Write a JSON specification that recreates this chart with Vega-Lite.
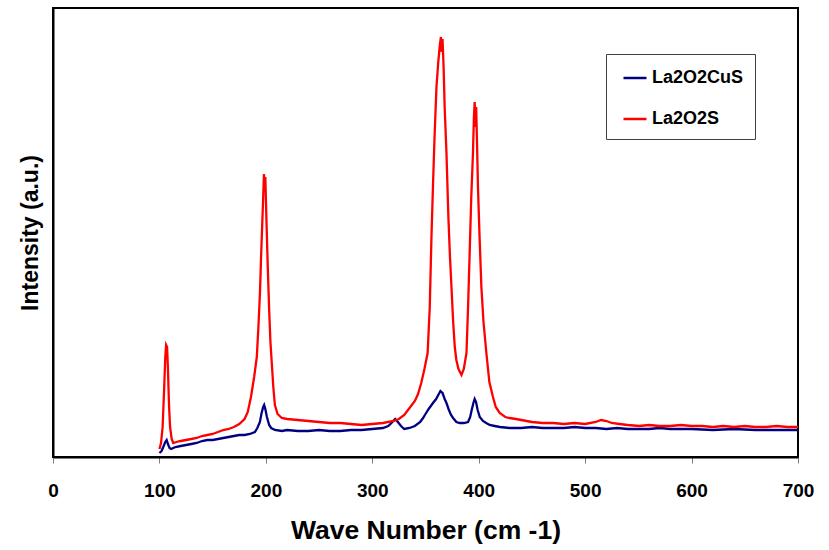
{
  "$schema": "https://vega.github.io/schema/vega-lite/v6.json",
  "width": 745,
  "height": 449,
  "autosize": {"type": "none"},
  "padding": {"left": 53, "top": 8, "right": 31, "bottom": 93},
  "background": "white",
  "config": {
    "font": "Liberation Sans",
    "view": {"stroke": "black", "strokeWidth": 2},
    "axis": {"grid": false}
  },
  "datasets": {
    "red": [
      {"w":100,"v":8},{"w":101.5,"v":14},{"w":103,"v":30},{"w":104.5,"v":70},{"w":105.5,"v":100},{"w":106.3,"v":112},{"w":107.2,"v":110},{"w":108,"v":88},{"w":109,"v":52},{"w":110,"v":30},{"w":111.5,"v":18},{"w":113,"v":14},{"w":116,"v":15},{"w":120,"v":16},{"w":125,"v":17},{"w":130,"v":18},{"w":135,"v":19},{"w":140,"v":21},{"w":145,"v":22},{"w":150,"v":23},{"w":155,"v":25},{"w":160,"v":27},{"w":165,"v":28},{"w":170,"v":30},{"w":175,"v":33},{"w":180,"v":38},{"w":183,"v":45},{"w":186,"v":60},{"w":189,"v":80},{"w":191.5,"v":100},{"w":193,"v":130},{"w":194.5,"v":165},{"w":195.5,"v":200},{"w":196.5,"v":230},{"w":197.5,"v":260},{"w":198.2,"v":283},{"w":198.8,"v":270},{"w":199.5,"v":280},{"w":200.6,"v":235},{"w":201.8,"v":190},{"w":203.1,"v":147},{"w":204.3,"v":115},{"w":205.5,"v":95},{"w":207,"v":70},{"w":208.5,"v":52},{"w":211,"v":43},{"w":215,"v":39},{"w":220,"v":38},{"w":230,"v":37},{"w":240,"v":36},{"w":250,"v":35},{"w":260,"v":34},{"w":270,"v":34},{"w":280,"v":33},{"w":290,"v":32},{"w":300,"v":33},{"w":310,"v":34},{"w":320,"v":36},{"w":325,"v":38},{"w":330,"v":42},{"w":335,"v":49},{"w":340,"v":56},{"w":343,"v":63},{"w":346,"v":74},{"w":349,"v":88},{"w":352,"v":104},{"w":354,"v":150},{"w":355.6,"v":220},{"w":357,"v":270},{"w":358.5,"v":320},{"w":360.3,"v":370},{"w":362,"v":395},{"w":363.5,"v":412},{"w":364.5,"v":420},{"w":365.3,"v":405},{"w":366,"v":418},{"w":367,"v":390},{"w":368,"v":350},{"w":369.7,"v":304},{"w":371.5,"v":240},{"w":373,"v":200},{"w":374.4,"v":170},{"w":376,"v":135},{"w":377.5,"v":110},{"w":379,"v":97},{"w":381,"v":88},{"w":383.8,"v":82},{"w":386,"v":88},{"w":388.5,"v":104},{"w":390,"v":150},{"w":391.5,"v":204},{"w":393,"v":260},{"w":394.6,"v":304},{"w":395.5,"v":340},{"w":396.2,"v":355},{"w":397,"v":330},{"w":397.6,"v":350},{"w":398.5,"v":310},{"w":399.3,"v":270},{"w":400.8,"v":220},{"w":402.5,"v":170},{"w":404.5,"v":135},{"w":407.2,"v":104},{"w":410,"v":75},{"w":413.4,"v":60},{"w":416,"v":50},{"w":419.7,"v":44},{"w":425,"v":40},{"w":429,"v":39},{"w":435,"v":38},{"w":440,"v":37},{"w":450,"v":35},{"w":460,"v":34},{"w":470,"v":34},{"w":480,"v":33},{"w":490,"v":34},{"w":500,"v":33},{"w":510,"v":35},{"w":515,"v":37},{"w":520,"v":36},{"w":525,"v":34},{"w":532,"v":33},{"w":540,"v":32},{"w":551,"v":31},{"w":560,"v":32},{"w":570,"v":31},{"w":580,"v":31},{"w":590,"v":32},{"w":600,"v":31},{"w":610,"v":31},{"w":620,"v":30},{"w":630,"v":31},{"w":640,"v":30},{"w":650,"v":31},{"w":660,"v":30},{"w":670,"v":30},{"w":680,"v":31},{"w":690,"v":30},{"w":700,"v":30}
    ],
    "blue": [
      {"w":100,"v":4},{"w":102,"v":6},{"w":104,"v":11},{"w":105.5,"v":15},{"w":106.8,"v":17},{"w":108,"v":13},{"w":109.5,"v":9},{"w":111,"v":8},{"w":113,"v":9},{"w":115,"v":10},{"w":120,"v":11},{"w":125,"v":12},{"w":130,"v":13},{"w":135,"v":14},{"w":140,"v":16},{"w":145,"v":17},{"w":150,"v":17},{"w":155,"v":18},{"w":160,"v":19},{"w":165,"v":20},{"w":170,"v":21},{"w":175,"v":22},{"w":180,"v":22},{"w":185,"v":23},{"w":189.7,"v":25},{"w":192,"v":29},{"w":194.4,"v":35},{"w":196,"v":44},{"w":197.5,"v":50},{"w":198.4,"v":52},{"w":199.5,"v":48},{"w":201,"v":40},{"w":203.1,"v":32},{"w":205,"v":29},{"w":208.5,"v":27},{"w":215,"v":26},{"w":220,"v":27},{"w":230,"v":26},{"w":240,"v":26},{"w":250,"v":27},{"w":260,"v":26},{"w":270,"v":26},{"w":280,"v":27},{"w":290,"v":27},{"w":300,"v":28},{"w":310,"v":29},{"w":315,"v":31},{"w":318,"v":34},{"w":321.5,"v":38},{"w":324,"v":35},{"w":327,"v":31},{"w":330,"v":28},{"w":335,"v":29},{"w":340,"v":31},{"w":345,"v":35},{"w":347.7,"v":39},{"w":350,"v":43},{"w":353,"v":48},{"w":357,"v":54},{"w":360,"v":58},{"w":362,"v":62},{"w":364,"v":66},{"w":366,"v":64},{"w":368,"v":58},{"w":369.7,"v":54},{"w":372,"v":47},{"w":374,"v":42},{"w":375.9,"v":39},{"w":379,"v":35},{"w":382.2,"v":34},{"w":386,"v":34},{"w":390,"v":35},{"w":392,"v":40},{"w":393.4,"v":47},{"w":395,"v":54},{"w":396.2,"v":58},{"w":397.5,"v":55},{"w":399,"v":47},{"w":401,"v":40},{"w":404,"v":36},{"w":407,"v":34},{"w":410.3,"v":32},{"w":415,"v":31},{"w":420,"v":30},{"w":429,"v":29},{"w":440,"v":29},{"w":450,"v":30},{"w":460,"v":29},{"w":470,"v":29},{"w":480,"v":29},{"w":490,"v":30},{"w":500,"v":29},{"w":510,"v":29},{"w":520,"v":28},{"w":530,"v":29},{"w":540,"v":28},{"w":550,"v":28},{"w":560,"v":28},{"w":570,"v":29},{"w":580,"v":28},{"w":590,"v":28},{"w":600,"v":28},{"w":620,"v":27},{"w":640,"v":28},{"w":660,"v":27},{"w":680,"v":27},{"w":700,"v":27}
    ]
  },
  "layer": [
    {
      "data": {"name": "blue"},
      "mark": {"type": "line", "strokeWidth": 2.3, "interpolate": "linear"},
      "transform": [{"calculate": "'La2O2CuS'", "as": "series"}],
      "encoding": {
        "x": {"field": "w", "type": "quantitative"},
        "y": {"field": "v", "type": "quantitative"},
        "color": {"field": "series", "type": "nominal"}
      }
    },
    {
      "data": {"name": "red"},
      "mark": {"type": "line", "strokeWidth": 2.3, "interpolate": "linear"},
      "transform": [{"calculate": "'La2O2S'", "as": "series"}],
      "encoding": {
        "x": {"field": "w", "type": "quantitative"},
        "y": {"field": "v", "type": "quantitative"},
        "color": {"field": "series", "type": "nominal"}
      }
    }
  ],
  "resolve": {"scale": {"x": "shared", "y": "shared", "color": "shared"}},
  "encoding": {
    "x": {
      "field": "w",
      "type": "quantitative",
      "scale": {"domain": [0, 700], "nice": false, "zero": false},
      "axis": {
        "title": "Wave Number (cm -1)",
        "values": [0, 100, 200, 300, 400, 500, 600, 700],
        "tickSize": 6,
        "tickColor": "#808080",
        "tickWidth": 1,
        "domainColor": "black",
        "domainWidth": 2,
        "labelFontSize": 19,
        "labelFontWeight": "bold",
        "labelColor": "black",
        "labelPadding": 18,
        "labelFlush": false,
        "titleFontSize": 26.5,
        "titleFontWeight": "bold",
        "titleColor": "black",
        "titlePadding": 17
      }
    },
    "y": {
      "field": "v",
      "type": "quantitative",
      "scale": {"domain": [0, 449], "nice": false},
      "axis": {
        "title": "Intensity (a.u.)",
        "labels": false,
        "ticks": false,
        "domainColor": "black",
        "domainWidth": 2,
        "titleFontSize": 23,
        "titleFontWeight": "bold",
        "titleColor": "black",
        "titlePadding": 11
      }
    },
    "color": {
      "field": "series",
      "type": "nominal",
      "scale": {"domain": ["La2O2CuS", "La2O2S"], "range": ["#000080", "#FF0000"]},
      "legend": {
        "title": null,
        "orient": "none",
        "legendX": 553,
        "legendY": 46,
        "symbolType": "stroke",
        "symbolSize": 529,
        "symbolStrokeWidth": 2.5,
        "symbolOffset": 5,
        "labelFontSize": 18,
        "labelFontWeight": "bold",
        "labelColor": "black",
        "labelOffset": 4,
        "padding": 11,
        "rowPadding": 19,
        "strokeColor": "#404040",
        "fillColor": "white"
      }
    }
  }
}
